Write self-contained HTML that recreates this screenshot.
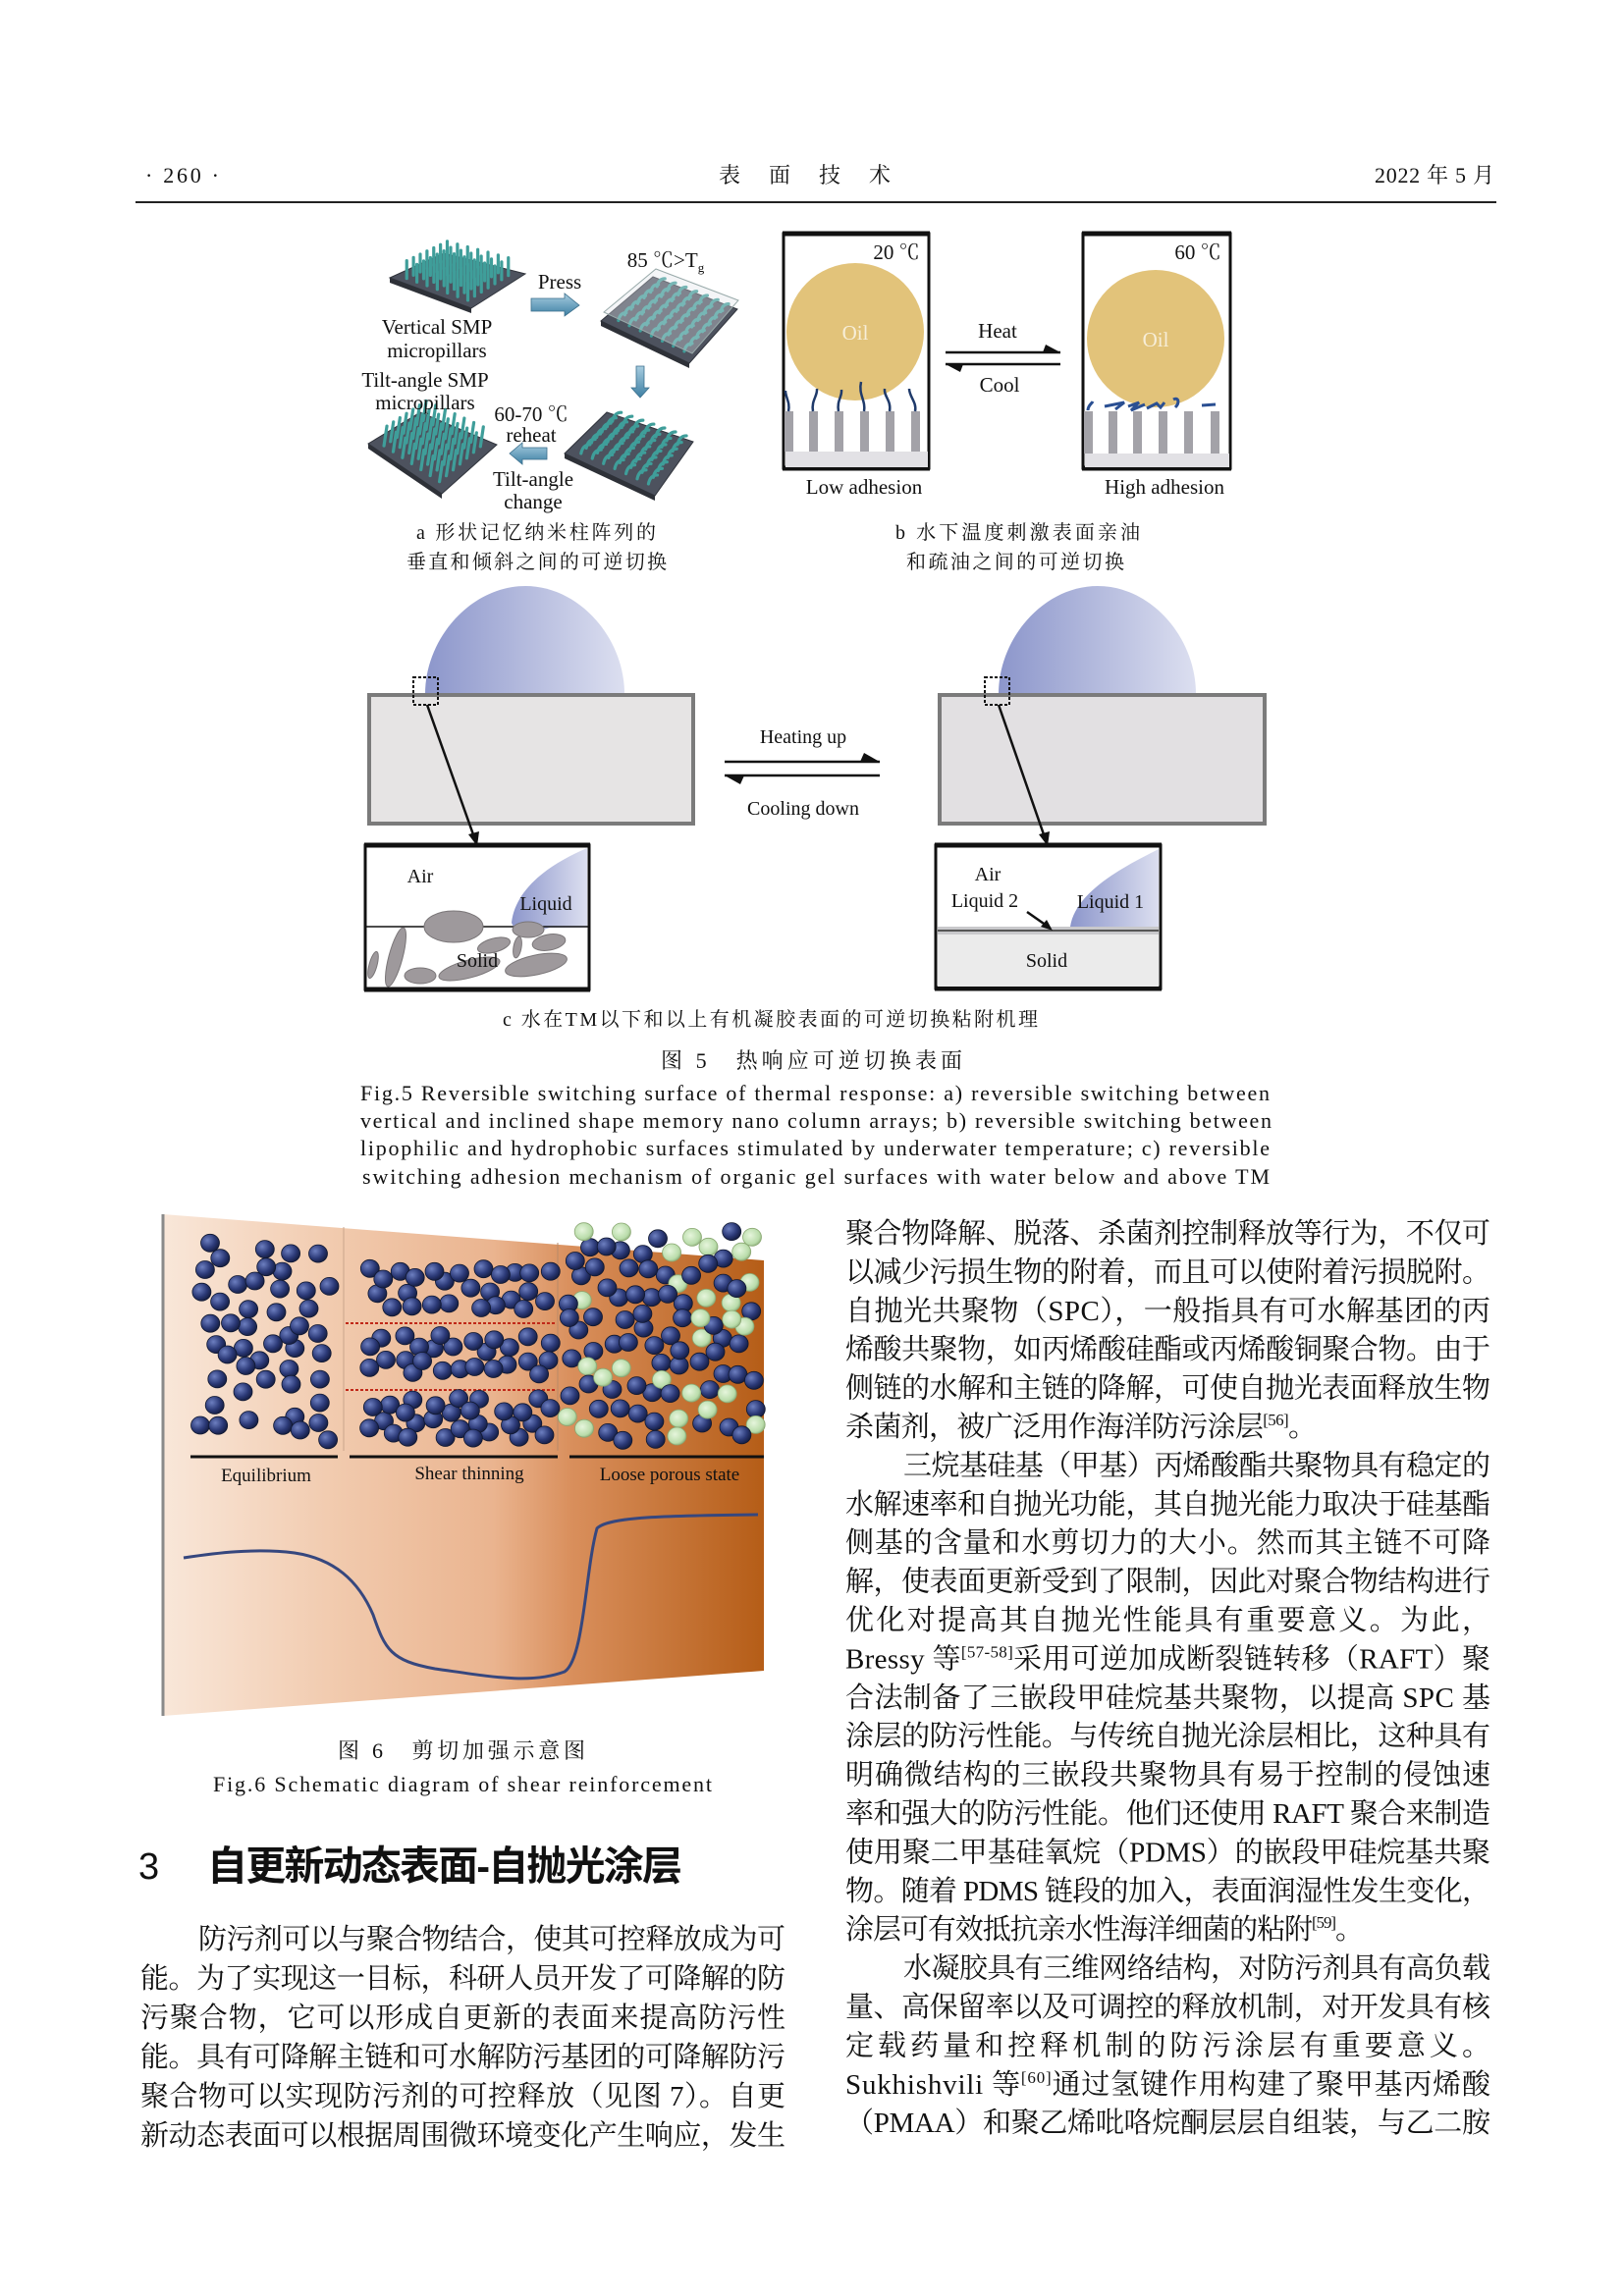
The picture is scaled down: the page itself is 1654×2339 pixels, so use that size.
<!DOCTYPE html>
<html><head><meta charset="utf-8"><style>
html,body{margin:0;padding:0;background:#fff;}
svg{display:block;}
.s{font-family:"Liberation Serif","Noto Serif CJK SC",serif;fill:#111;}
</style></head><body>
<svg id="pg" width="1654" height="2339" viewBox="0 0 1654 2339" xmlns="http://www.w3.org/2000/svg">
<defs>
<linearGradient id="drop" x1="0" x2="1" y1="0" y2="0"><stop offset="0" stop-color="#8c96cb"/><stop offset="1" stop-color="#dcdff0"/></linearGradient>
<linearGradient id="panel" x1="0" x2="1" y1="0" y2="0">
<stop offset="0" stop-color="#f9e7d9"/><stop offset="0.3" stop-color="#f1c9ac"/><stop offset="0.55" stop-color="#eab48f"/><stop offset="0.68" stop-color="#d98f5c"/><stop offset="1" stop-color="#b55d17"/></linearGradient>
<radialGradient id="bb" cx="0.35" cy="0.35" r="0.7"><stop offset="0" stop-color="#6d7fc0"/><stop offset="0.6" stop-color="#2c3a78"/><stop offset="1" stop-color="#141c40"/></radialGradient>
<radialGradient id="gb" cx="0.4" cy="0.4" r="0.7"><stop offset="0" stop-color="#e6f5dc"/><stop offset="0.7" stop-color="#b9dcaa"/><stop offset="1" stop-color="#7f9e6c"/></radialGradient>
<linearGradient id="arr" x1="0" x2="0" y1="0" y2="1"><stop offset="0" stop-color="#a8cde0"/><stop offset="1" stop-color="#3d7fa3"/></linearGradient>
</defs>

<!-- header -->
<text class="s" x="148" y="186" font-size="22" textLength="75">· 260 ·</text>
<text class="s" x="732" y="186" font-size="22" textLength="175">表 面 技 术</text>
<text class="s" x="1400" y="186" font-size="22" textLength="122">2022 年 5 月</text>
<line x1="138" y1="206" x2="1524" y2="206" stroke="#222" stroke-width="2"/>

<!-- fig a -->
<g id="figa"></g>
<g class="s" font-size="21" text-anchor="middle">
<text x="570" y="294">Press</text>
<text x="678" y="272">85 ℃&gt;T<tspan font-size="13" dy="5">g</tspan></text>
<text x="445" y="340">Vertical SMP</text>
<text x="445" y="364">micropillars</text>
<text x="433" y="394">Tilt-angle SMP</text>
<text x="433" y="417">micropillars</text>
<text x="541" y="429">60-70 ℃</text>
<text x="541" y="450">reheat</text>
<text x="543" y="495">Tilt-angle</text>
<text x="543" y="518">change</text>
</g>
<!-- arrows a -->
<path d="M541,304 L575,304 L575,299 L590,311 L575,322 L575,317 L541,317 Z" fill="url(#arr)" stroke="#3b6f8c" stroke-width="0.8"/>
<path d="M648,373 L656,373 L656,395 L661,395 L652,405 L643,395 L648,395 Z" fill="url(#arr)" stroke="#3b6f8c" stroke-width="0.8"/>
<path d="M557,456 L532,456 L532,451 L519,462 L532,473 L532,468 L557,468 Z" fill="url(#arr)" stroke="#3b6f8c" stroke-width="0.8"/>

<!-- fig b -->
<g>
<rect x="798" y="238" width="148" height="239" fill="#fff" stroke="#111" stroke-width="3"/>
<line x1="797" y1="238" x2="947" y2="238" stroke="#111" stroke-width="5"/>
<line x1="797" y1="477" x2="947" y2="477" stroke="#111" stroke-width="5"/>
<rect x="800" y="460" width="145" height="16" fill="#e2e1e5"/>
<circle cx="871" cy="338" r="70" fill="#e2c37a"/>
<text class="s" x="871" y="346" font-size="21" fill="#f7eed8" text-anchor="middle" style="fill:#f7eed8">Oil</text>
<text class="s" x="913" y="264" font-size="21" text-anchor="middle">20 ℃</text>
<g fill="#a3a2a8"><rect x="799" y="419" width="9" height="41"/><rect x="824" y="419" width="9" height="41"/><rect x="850" y="419" width="9" height="41"/><rect x="876" y="419" width="9" height="41"/><rect x="902" y="419" width="9" height="41"/><rect x="928" y="419" width="9" height="41"/></g>
<g fill="none" stroke="#1f3a6a" stroke-width="2.5">
<path d="M803,419 C805,410 800,405 800,398"/><path d="M828,419 C826,408 833,403 832,396"/><path d="M854,419 C852,408 858,404 857,397"/><path d="M880,419 C882,408 874,402 877,389"/><path d="M906,419 C908,408 900,404 901,396"/><path d="M932,419 C934,410 926,404 926,396"/>
</g>
<rect x="1103" y="238" width="150" height="239" fill="#fff" stroke="#111" stroke-width="3"/>
<line x1="1102" y1="238" x2="1254" y2="238" stroke="#111" stroke-width="5"/>
<line x1="1102" y1="477" x2="1254" y2="477" stroke="#111" stroke-width="5"/>
<rect x="1105" y="462" width="147" height="14" fill="#e2e1e5"/>
<circle cx="1177" cy="345" r="70" fill="#e2c37a"/>
<text class="s" x="1177" y="353" font-size="21" text-anchor="middle" style="fill:#f7eed8">Oil</text>
<text class="s" x="1220" y="264" font-size="21" text-anchor="middle">60 ℃</text>
<g fill="#a3a2a8"><rect x="1104" y="419" width="9" height="43"/><rect x="1129" y="419" width="9" height="43"/><rect x="1154" y="419" width="9" height="43"/><rect x="1180" y="419" width="9" height="43"/><rect x="1206" y="419" width="9" height="43"/><rect x="1233" y="419" width="9" height="43"/></g>
<g fill="none" stroke="#2a4f92" stroke-width="3">
<path d="M1108,418 C1108,413 1112,411 1113,409"/><path d="M1125,414 L1145,410 L1136,417"/><path d="M1149,414 L1160,410 L1152,418 L1166,412"/><path d="M1168,416 L1178,411 L1182,415 L1186,410"/><path d="M1195,407 C1200,404 1202,410 1197,415"/><path d="M1224,413 L1238,412"/>
</g>
<line x1="963" y1="359" x2="1080" y2="359" stroke="#111" stroke-width="2.5"/><path d="M1065,351 L1080,359 L1062,359 Z" fill="#111"/>
<line x1="963" y1="371" x2="1080" y2="371" stroke="#111" stroke-width="2.5"/><path d="M978,379 L963,371 L981,371 Z" fill="#111"/>
<text class="s" x="1016" y="344" font-size="21" text-anchor="middle">Heat</text>
<text class="s" x="1018" y="399" font-size="21" text-anchor="middle">Cool</text>
<text class="s" x="880" y="503" font-size="21" text-anchor="middle">Low adhesion</text>
<text class="s" x="1186" y="503" font-size="21" text-anchor="middle">High adhesion</text>
</g>

<!-- captions a b -->
<text class="s" x="424" y="549" font-size="20" textLength="244">a 形状记忆纳米柱阵列的</text>
<text class="s" x="414" y="579" font-size="20" textLength="265">垂直和倾斜之间的可逆切换</text>
<text class="s" x="912" y="549" font-size="20" textLength="249">b 水下温度刺激表面亲油</text>
<text class="s" x="923" y="579" font-size="20" textLength="222">和疏油之间的可逆切换</text>

<!-- fig c -->
<path d="M433,707 C433,650 480,597 535,597 C590,597 636,650 636,707 Z" fill="url(#drop)"/>
<rect x="376" y="708" width="330" height="131" fill="#e6e4e4" stroke="#7b7b7b" stroke-width="4"/>
<path d="M1017,707 C1017,650 1063,597 1118,597 C1173,597 1218,650 1218,707 Z" fill="url(#drop)"/>
<rect x="957" y="708" width="331" height="131" fill="#e2e0e2" stroke="#7b7b7b" stroke-width="4"/>
<rect x="421" y="690" width="25" height="28" fill="none" stroke="#111" stroke-width="2" stroke-dasharray="3,2"/>
<rect x="1003" y="690" width="25" height="28" fill="none" stroke="#111" stroke-width="2" stroke-dasharray="3,2"/>
<line x1="435" y1="718" x2="483" y2="853" stroke="#111" stroke-width="2.5"/><path d="M477,850 L486,862 L488,847 Z" fill="#111"/>
<line x1="1017" y1="718" x2="1064" y2="853" stroke="#111" stroke-width="2.5"/><path d="M1058,850 L1067,862 L1069,847 Z" fill="#111"/>
<line x1="738" y1="776" x2="896" y2="776" stroke="#111" stroke-width="2.5"/><path d="M880,767 L896,776 L876,776 Z" fill="#111"/>
<line x1="738" y1="790" x2="896" y2="790" stroke="#111" stroke-width="2.5"/><path d="M754,799 L738,790 L758,790 Z" fill="#111"/>
<text class="s" x="818" y="757" font-size="20" text-anchor="middle">Heating up</text>
<text class="s" x="818" y="830" font-size="20" text-anchor="middle">Cooling down</text>

<!-- bottom boxes -->
<rect x="372" y="861" width="228" height="147" fill="#fff" stroke="#111" stroke-width="3"/>
<line x1="371" y1="861" x2="601" y2="861" stroke="#111" stroke-width="5"/>
<line x1="371" y1="1008" x2="601" y2="1008" stroke="#111" stroke-width="5"/>
<path d="M598,864 C560,880 525,905 521,940 C525,952 545,950 560,945 L598,945 Z" fill="url(#drop)"/>
<line x1="373" y1="944" x2="599" y2="944" stroke="#111" stroke-width="1.5"/>
<g fill="#9e999c" stroke="#7a7678" stroke-width="1">
<ellipse cx="462" cy="944" rx="30" ry="16"/>
<ellipse cx="538" cy="947" rx="16" ry="8"/>
<ellipse cx="503" cy="963" rx="17" ry="7" transform="rotate(-15 503 963)"/>
<ellipse cx="559" cy="960" rx="17" ry="8" transform="rotate(-10 559 960)"/>
<ellipse cx="546" cy="983" rx="32" ry="10" transform="rotate(-12 546 983)"/>
<ellipse cx="478" cy="987" rx="32" ry="9" transform="rotate(-15 478 987)"/>
<ellipse cx="428" cy="994" rx="16" ry="8"/>
<ellipse cx="403" cy="975" rx="7" ry="31" transform="rotate(15 403 975)"/>
<ellipse cx="380" cy="983" rx="4" ry="14" transform="rotate(15 380 983)"/>
<ellipse cx="527" cy="965" rx="4" ry="11" transform="rotate(10 527 965)"/>
</g>
<text class="s" x="428" y="899" font-size="20" text-anchor="middle">Air</text>
<text class="s" x="556" y="927" font-size="20" text-anchor="middle">Liquid</text>
<text class="s" x="486" y="985" font-size="20" text-anchor="middle">Solid</text>

<rect x="953" y="861" width="229" height="146" fill="#fff" stroke="#111" stroke-width="3"/>
<line x1="952" y1="861" x2="1183" y2="861" stroke="#111" stroke-width="5"/>
<line x1="952" y1="1007" x2="1183" y2="1007" stroke="#111" stroke-width="5"/>
<rect x="955" y="952" width="225" height="53" fill="#ebebeb"/>
<path d="M1180,865 C1140,885 1095,910 1090,944 L1180,944 Z" fill="url(#drop)"/>
<rect x="955" y="944" width="225" height="8" fill="#c8c8cb"/>
<line x1="955" y1="948" x2="1180" y2="948" stroke="#555" stroke-width="2"/>
<text class="s" x="1006" y="897" font-size="20" text-anchor="middle">Air</text>
<text class="s" x="1003" y="924" font-size="20" text-anchor="middle">Liquid 2</text>
<text class="s" x="1131" y="925" font-size="20" text-anchor="middle">Liquid 1</text>
<text class="s" x="1066" y="985" font-size="20" text-anchor="middle">Solid</text>
<line x1="1046" y1="929" x2="1066" y2="943" stroke="#111" stroke-width="2.5"/><path d="M1060,944 L1072,948 L1066,937 Z" fill="#111"/>

<text class="s" x="512" y="1045" font-size="20" textLength="545">c 水在TM以下和以上有机凝胶表面的可逆切换粘附机理</text>
<text class="s" x="673" y="1088" font-size="22" textLength="307">图 5　热响应可逆切换表面</text>
<g class="s" font-size="22">
<text x="367" y="1121" textLength="926">Fig.5 Reversible switching surface of thermal response: a) reversible switching between</text>
<text x="367" y="1149" textLength="928">vertical and inclined shape memory nano column arrays; b) reversible switching between</text>
<text x="367" y="1177" textLength="926">lipophilic and hydrophobic surfaces stimulated by underwater temperature; c) reversible</text>
<text x="369" y="1206" textLength="924">switching adhesion mechanism of organic gel surfaces with water below and above TM</text>
</g>

<!-- fig 6 -->
<polygon points="166,1237 778,1284 778,1702 166,1748" fill="url(#panel)"/>
<line x1="166" y1="1237" x2="166" y2="1748" stroke="#8a8a8a" stroke-width="3"/>
<line x1="350" y1="1250" x2="350" y2="1478" stroke="#c9a58c" stroke-width="1"/>
<line x1="568" y1="1266" x2="568" y2="1478" stroke="#b88a68" stroke-width="1"/>
<line x1="352" y1="1348" x2="566" y2="1348" stroke="#c02818" stroke-width="2" stroke-dasharray="3,2"/>
<line x1="352" y1="1416" x2="566" y2="1416" stroke="#c02818" stroke-width="2" stroke-dasharray="3,2"/>
<g id="balls"></g>
<line x1="194" y1="1484" x2="344" y2="1484" stroke="#111" stroke-width="3"/>
<line x1="356" y1="1484" x2="568" y2="1484" stroke="#111" stroke-width="3"/>
<line x1="580" y1="1484" x2="778" y2="1484" stroke="#111" stroke-width="3"/>
<text class="s" x="271" y="1509" font-size="19" text-anchor="middle">Equilibrium</text>
<text class="s" x="478" y="1507" font-size="19" text-anchor="middle">Shear thinning</text>
<text class="s" x="682" y="1508" font-size="19" text-anchor="middle">Loose porous state</text>
<path d="M187,1587 C220,1582 260,1577 300,1582 C340,1588 365,1610 380,1645 C392,1680 398,1692 443,1700 C500,1708 540,1716 575,1703 C595,1690 596,1600 608,1557 C620,1545 680,1544 772,1543" fill="none" stroke="#36477e" stroke-width="3"/>
<text class="s" x="344" y="1791" font-size="22" textLength="252">图 6　剪切加强示意图</text>
<text class="s" x="217" y="1825" font-size="22" textLength="508">Fig.6 Schematic diagram of shear reinforcement</text>

<!-- heading -->
<text x="141" y="1914" font-size="38" font-family="Liberation Sans, sans-serif" fill="#111">3</text>
<text x="211" y="1915" font-size="41" font-weight="bold" font-family="Liberation Sans, Noto Sans CJK SC, sans-serif" fill="#111" textLength="484">自更新动态表面-自抛光涂层</text>

<g id="body" class="s" font-size="29"></g>
</svg>
<script>
var NS="http://www.w3.org/2000/svg";
function el(n,a,p){var e=document.createElementNS(NS,n);for(var k in a)e.setAttribute(k,a[k]);p.appendChild(e);return e;}
var seed=7;function rnd(){seed=(seed*16807)%2147483647;return (seed-1)/2147483646;}
// balls
var B=document.getElementById('balls');
function fill(x0,x1,y0,y1,n,green){var pts=[];var tries=0;while(pts.length<n&&tries<5000){tries++;var x=x0+rnd()*(x1-x0),y=y0+rnd()*(y1-y0);var ok=true;for(var i=0;i<pts.length;i++){var dx=pts[i][0]-x,dy=pts[i][1]-y;if(dx*dx+dy*dy<200){ok=false;break;}}if(ok)pts.push([x,y]);}
pts.forEach(function(p){var g=green&&rnd()<green;el('ellipse',{cx:p[0].toFixed(1),cy:p[1].toFixed(1),rx:9.5,ry:9,fill:g?'url(#gb)':'url(#bb)',stroke:g?'#8aa872':'#101830','stroke-width':0.8},B);});}
fill(204,336,1266,1468,48,0);
fill(376,562,1292,1334,26,0);
fill(376,562,1360,1400,26,0);
fill(376,562,1424,1466,28,0);
fill(576,772,1254,1468,95,0.45);
// fig a panels
var A=document.getElementById('figa');
function panel(L,Bt,R,T,dx,dy,bend){
 el('polygon',{points:[L,Bt,R,T].map(function(p){return p.join(',')}).join(' '),fill:'#4d525e',stroke:'#30343c','stroke-width':1},A);
 el('polygon',{points:[[L[0],L[1]],[Bt[0],Bt[1]],[Bt[0],Bt[1]+5],[L[0],L[1]+5]].map(function(p){return p.join(',')}).join(' '),fill:'#2e3138'},A);
 var N=8;for(var i=1;i<N;i++)for(var j=1;j<N;j++){var u=i/N,v=j/N;
  var x=L[0]*(1-u)*(1-v)+Bt[0]*u*(1-v)+T[0]*(1-u)*v+R[0]*u*v;
  var y=L[1]*(1-u)*(1-v)+Bt[1]*u*(1-v)+T[1]*(1-u)*v+R[1]*u*v;
  var d=bend?('M'+x+','+y+' q'+(dx*0.2)+','+(dy)+' '+dx+','+dy):('M'+x+','+y+' l'+dx+','+dy);
  el('path',{d:d,stroke:'#3f9e9a','stroke-width':3.2,fill:'none','stroke-linecap':'round'},A);}
}
panel([397,283],[480,314],[535,279],[452,258],0,-18,false);
panel([612,327],[702,370],[751,315],[665,282],8,-8,true);
el('polygon',{points:'615,318 705,360 752,306 668,274',fill:'#dfe3e8','fill-opacity':0.35,stroke:'#9aa',"stroke-width":1},A);
panel([575,462],[667,505],[706,450],[618,420],9,-9,true);
panel([375,452],[450,503],[506,453],[428,420],3,-20,false);
// body text
var G=document.getElementById('body');
function line(x,y,w,html,noFit){var t=el('text',{x:x,y:y},G);if(!noFit){t.setAttribute('textLength',w);t.setAttribute('lengthAdjust','spacing');}t.innerHTML=html;}
function sup(s){return '<tspan font-size="17" dy="-11">'+s+'</tspan><tspan dy="11">';}
var L=[
[202,'防污剂可以与聚合物结合，使其可控释放成为可'],
[143,'能。为了实现这一目标，科研人员开发了可降解的防'],
[143,'污聚合物，它可以形成自更新的表面来提高防污性'],
[143,'能。具有可降解主链和可水解防污基团的可降解防污'],
[143,'聚合物可以实现防污剂的可控释放（见图 7）。自更'],
[143,'新动态表面可以根据周围微环境变化产生响应，发生']];
L.forEach(function(l,i){line(l[0],1985+i*40,800-l[0],l[1]);});
var R=[
[861,'聚合物降解、脱落、杀菌剂控制释放等行为，不仅可'],
[861,'以减少污损生物的附着，而且可以使附着污损脱附。'],
[861,'自抛光共聚物（SPC），一般指具有可水解基团的丙'],
[861,'烯酸共聚物，如丙烯酸硅酯或丙烯酸铜聚合物。由于'],
[861,'侧链的水解和主链的降解，可使自抛光表面释放生物'],
[861,'杀菌剂，被广泛用作海洋防污涂层'+sup('[56]')+'。</tspan>',1341],
[920,'三烷基硅基（甲基）丙烯酸酯共聚物具有稳定的'],
[861,'水解速率和自抛光功能，其自抛光能力取决于硅基酯'],
[861,'侧基的含量和水剪切力的大小。然而其主链不可降'],
[861,'解，使表面更新受到了限制，因此对聚合物结构进行'],
[861,'优化对提高其自抛光性能具有重要意义。为此，'],
[861,'Bressy 等'+sup('[57-58]')+'采用可逆加成断裂链转移（RAFT）聚</tspan>'],
[861,'合法制备了三嵌段甲硅烷基共聚物，以提高 SPC 基'],
[861,'涂层的防污性能。与传统自抛光涂层相比，这种具有'],
[861,'明确微结构的三嵌段共聚物具有易于控制的侵蚀速'],
[861,'率和强大的防污性能。他们还使用 RAFT 聚合来制造'],
[861,'使用聚二甲基硅氧烷（PDMS）的嵌段甲硅烷基共聚'],
[861,'物。随着 PDMS 链段的加入，表面润湿性发生变化，'],
[861,'涂层可有效抵抗亲水性海洋细菌的粘附'+sup('[59]')+'。</tspan>',1389],
[920,'水凝胶具有三维网络结构，对防污剂具有高负载'],
[861,'量、高保留率以及可调控的释放机制，对开发具有核'],
[861,'定载药量和控释机制的防污涂层有重要意义。'],
[861,'Sukhishvili 等'+sup('[60]')+'通过氢键作用构建了聚甲基丙烯酸</tspan>'],
[861,'（PMAA）和聚乙烯吡咯烷酮层层自组装，与乙二胺']];
R.forEach(function(l,i){var end=l[2]||1518;line(l[0],1266+i*39.4,end-l[0],l[1]);});
</script>
</body></html>
